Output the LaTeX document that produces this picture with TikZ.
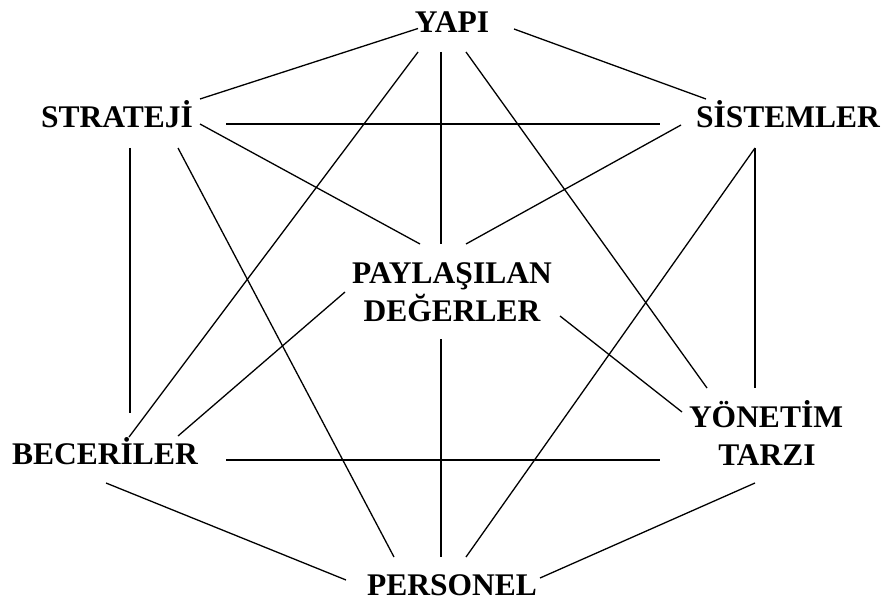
\documentclass[tikz,border=0pt]{standalone}
\usepackage{fontspec}
\setmainfont{Liberation Serif}
\usepackage{tikz}
\usetikzlibrary{calc}

\begin{document}
\begin{tikzpicture}[x=1pt, y=-1pt,
        lbl/.style={inner sep=0pt, text height=21pt, text depth=0pt, font=\fontsize{31.5}{36}\selectfont\bfseries},
        link/.style={line width=1.3pt}]
        \useasboundingbox (0,0) rectangle (883,604);

        \node[lbl] (yapi) at (452,22.5) {YAPI};
        \node[lbl] (strateji) at (117,117.5) {STRATEJİ};
        \node[lbl] (sistemler) at (788,117.5) {SİSTEMLER};
        \node[lbl] (paylasilan) at (452,272.5) {PAYLAŞILAN};
        \node[lbl] (degerler) at (452,310.5) {DEĞERLER};
        \node[lbl] (yonetim) at (766,416.5) {YÖNETİM};
        \node[lbl] (tarzi) at (767,454.5) {TARZI};
        \node[lbl] (beceriler) at (105,454) {BECERİLER};
        \node[lbl] (personel) at (452,584.5) {PERSONEL};

        % outer ring
        \draw[link] ($(yapi)+(-34,6)$) -- ($(strateji)+(83,-18.5)$);
        \draw[link] ($(yapi)+(62,6.5)$) -- ($(sistemler)+(-82,-18.5)$);
        \draw[link] ($(strateji)+(13,30.5)$) -- ($(beceriler)+(25,-41)$);
        \draw[link] ($(sistemler)+(-33,30.5)$) -- ($(yonetim)+(-11,-28.5)$);
        \draw[link] ($(beceriler)+(1,29)$) -- ($(personel)+(-106,-4.5)$);
        \draw[link] ($(tarzi)+(-12,28.5)$) -- ($(personel)+(88,-6.5)$);

        % cross links
        \draw[link] ($(strateji)+(109,6.5)$) -- ($(sistemler)+(-128,6.5)$);
        \draw[link] ($(beceriler)+(121,6)$) -- ($(tarzi)+(-107,5.5)$);
        \draw[link] ($(yapi)+(-34,29.5)$) -- ($(beceriler)+(24,-17)$);
        \draw[link] ($(yapi)+(14,29.5)$) -- ($(yonetim)+(-59,-28.5)$);
        \draw[link] ($(strateji)+(61,30.5)$) -- ($(personel)+(-58,-27.5)$);
        \draw[link] ($(sistemler)+(-33,30.5)$) -- ($(personel)+(14,-27.5)$);

        % shared values
        \draw[link] ($(yapi)+(-11,29.5)$) -- ($(paylasilan)+(-11,-28.5)$);
        \draw[link] ($(strateji)+(83,6.5)$) -- ($(paylasilan)+(-32,-28.5)$);
        \draw[link] ($(sistemler)+(-107,7.5)$) -- ($(paylasilan)+(14,-28.5)$);
        \draw[link] ($(paylasilan)+(-107,19.5)$) -- ($(beceriler)+(73,-18)$);
        \draw[link] ($(degerler)+(108,5.5)$) -- ($(yonetim)+(-84,-4.5)$);
        \draw[link] ($(degerler)+(-11,28.5)$) -- ($(personel)+(-11,-27.5)$);
    \end{tikzpicture}
\end{document}
